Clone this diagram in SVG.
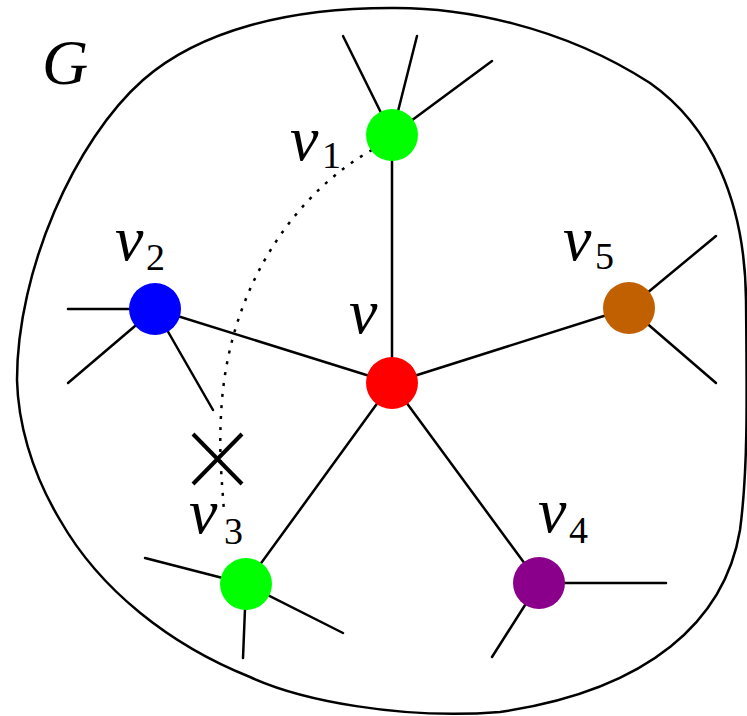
<svg xmlns="http://www.w3.org/2000/svg" width="747" height="716" viewBox="0 0 747 716">
<style>
.e{stroke:#000;stroke-width:2.5;fill:none;stroke-linecap:round}
.lab{font-family:"Liberation Serif","DejaVu Serif",serif;font-style:italic;font-size:64px;fill:#000}
.sub{font-family:"Liberation Serif","DejaVu Serif",serif;font-size:38px;fill:#000}
</style>
<rect width="747" height="716" fill="#fff"/>
<path id="blob" class="e" d="M 17 380 C 17 270, 75 140, 143 80 C 200 30, 290 8, 390 8 C 460 7, 560 25, 650 83 C 710 125, 745 200, 746 300 C 747 400, 748 470, 740 530 C 725 620, 650 690, 500 712 C 400 720, 300 700, 250 677 C 170 645, 100 590, 60 520 C 30 470, 18 420, 17 380 Z"/>
<text class="lab" x="42" y="84">G</text>
<g id="connectors">
<line class="e" x1="392" y1="135" x2="392" y2="383"/>
<line class="e" x1="155" y1="309" x2="392" y2="383"/>
<line class="e" x1="629" y1="308" x2="392" y2="383"/>
<line class="e" x1="246" y1="584" x2="392" y2="383"/>
<line class="e" x1="539" y1="583" x2="392" y2="383"/>
<line class="e" x1="392" y1="135" x2="343" y2="36"/>
<line class="e" x1="392" y1="135" x2="417" y2="36"/>
<line class="e" x1="392" y1="135" x2="492" y2="61"/>
<line class="e" x1="155" y1="309" x2="68" y2="309"/>
<line class="e" x1="155" y1="309" x2="68" y2="383"/>
<line class="e" x1="155" y1="309" x2="213" y2="410"/>
<line class="e" x1="629" y1="308" x2="716" y2="236"/>
<line class="e" x1="629" y1="308" x2="716" y2="383"/>
<line class="e" x1="246" y1="584" x2="145" y2="558"/>
<line class="e" x1="246" y1="584" x2="343" y2="633"/>
<line class="e" x1="246" y1="584" x2="243" y2="658"/>
<line class="e" x1="539" y1="583" x2="666" y2="583"/>
<line class="e" x1="539" y1="583" x2="492" y2="657"/>
<path d="M 372 150 C 300 190, 232 280, 222 400 C 218 450, 222 480, 224 512" fill="none" stroke="#000" stroke-width="2.5" stroke-dasharray="3,8"/>
<g stroke="#000" stroke-width="4">
<line x1="193" y1="434" x2="242" y2="484"/>
<line x1="242" y1="434" x2="193" y2="484"/>
</g>
</g>
<g id="v1"><circle cx="392" cy="135" r="26" fill="#00ff00"/><text class="lab" x="290" y="160">v</text><text class="sub" x="322" y="168">1</text></g>
<g id="v"><circle cx="392" cy="383" r="26" fill="#ff0000"/><text class="lab" x="349" y="333">v</text></g>
<g id="v2"><circle cx="155" cy="309" r="26" fill="#0000ff"/><text class="lab" x="115" y="260">v</text><text class="sub" x="146" y="270">2</text></g>
<g id="v5"><circle cx="629" cy="308" r="26" fill="#c06000"/><text class="lab" x="563" y="260">v</text><text class="sub" x="595" y="269">5</text></g>
<g id="v3"><circle cx="246" cy="584" r="26" fill="#00ff00"/><text class="lab" x="189" y="533">v</text><text class="sub" x="224" y="544">3</text></g>
<g id="v4"><circle cx="539" cy="583" r="26" fill="#8b008b"/><text class="lab" x="538" y="532">v</text><text class="sub" x="569" y="543">4</text></g>
</svg>
